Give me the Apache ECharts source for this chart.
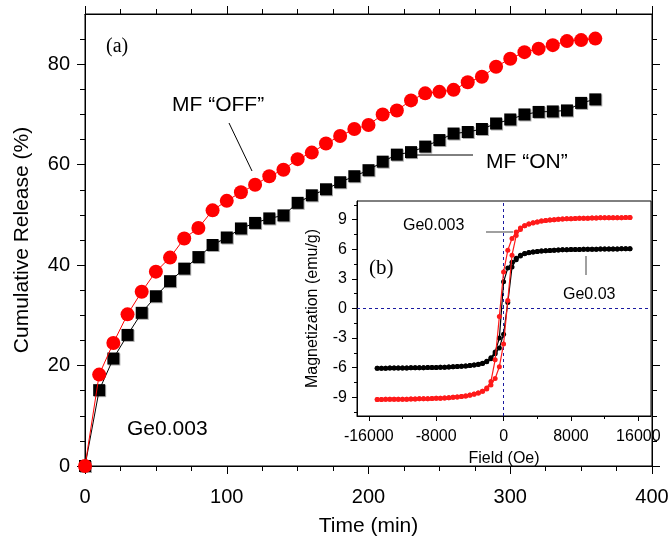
<!DOCTYPE html>
<html>
<head>
<meta charset="utf-8">
<script src="https://cdn.jsdelivr.net/npm/echarts@6/dist/echarts.min.js"></script>
<style>
  html, body { margin: 0; padding: 0; background: #fff; }
  #chart { width: 672px; height: 536px; }
</style>
</head>
<body>
<div id="chart"></div>
<script>
// (a) cumulative release vs time
const times = [0, 10, 20, 30, 40, 50, 60, 70, 80, 90, 100, 110, 120, 130, 140, 150, 160, 170, 180, 190,
  200, 210, 220, 230, 240, 250, 260, 270, 280, 290, 300, 310, 320, 330, 340, 350, 360];
const releaseOff = [0, 18.2, 24.5, 30.2, 34.7, 38.7, 41.5, 45.3, 47.4, 50.9, 52.8,
  54.5, 56.0, 57.7, 59.0, 61.1, 62.4, 64.2, 65.7, 67.1, 67.9,
  70.0, 70.8, 72.8, 74.2, 74.5, 74.9, 76.4, 77.5, 79.5, 81.1,
  82.4, 83.1, 83.8, 84.6, 84.8, 85.1];
const releaseOn = [0, 15.1, 21.4, 26.1, 30.5, 33.8, 36.8, 39.3, 41.6, 44.0, 45.5,
  47.3, 48.4, 49.3, 49.9, 52.4, 53.9, 55.1, 56.5, 57.7, 58.9,
  60.6, 62.0, 62.5, 63.6, 64.9, 66.2, 66.5, 67.1, 68.2, 69.0,
  70.0, 70.5, 70.6, 70.8, 72.3, 73.0];
const releaseTicks = [0, 20, 40, 60, 80];
const releaseMinor = [5, 10, 15, 25, 30, 35, 45, 50, 55, 65, 70, 75, 85];

// (b) hysteresis loops, field swept down then back up
const fieldDown = [15000, 14500, 14000, 13500, 13000, 12500, 12000, 11500, 11000, 10500,
  10000, 9500, 9000, 8500, 8000, 7500, 7000, 6500, 6000, 5500,
  5000, 4500, 4000, 3500, 3000, 2500, 2000, 1500, 1000, 500, 0,
  -500, -1000, -1500, -2000, -2500, -3000, -3500, -4000, -4500, -5000,
  -5500, -6000, -6500, -7000, -7500, -8000, -8500, -9000, -9500, -10000,
  -10500, -11000, -11500, -12000, -12500, -13000, -13500, -14000, -14500, -15000];
const fieldUp = fieldDown.slice().reverse();
const redDown = [9.22, 9.22, 9.21, 9.21, 9.20, 9.20, 9.19, 9.19, 9.18, 9.17,
  9.16, 9.15, 9.14, 9.12, 9.11, 9.09, 9.07, 9.04, 9.01, 8.97,
  8.92, 8.86, 8.78, 8.68, 8.56, 8.40, 8.15, 7.75, 7.1, 5.9, 3.7,
  -0.8, -5.2, -7.4, -8.05, -8.4, -8.58, -8.7, -8.79, -8.86, -8.92,
  -8.97, -9.01, -9.04, -9.07, -9.09, -9.11, -9.12, -9.14, -9.15, -9.16,
  -9.17, -9.18, -9.19, -9.19, -9.20, -9.20, -9.21, -9.21, -9.22, -9.22];
const redUp = [-9.22, -9.22, -9.21, -9.21, -9.20, -9.20, -9.19, -9.19, -9.18, -9.17,
  -9.16, -9.15, -9.14, -9.12, -9.11, -9.09, -9.07, -9.04, -9.01, -8.97,
  -8.92, -8.86, -8.78, -8.68, -8.56, -8.40, -8.15, -7.75, -7.1, -5.9, -3.6,
  0.8, 5.4, 7.4, 8.0, 8.38, 8.57, 8.69, 8.78, 8.86, 8.92,
  8.97, 9.01, 9.04, 9.07, 9.09, 9.11, 9.12, 9.14, 9.15, 9.16,
  9.17, 9.18, 9.19, 9.19, 9.20, 9.20, 9.21, 9.21, 9.22, 9.22];
const blackDown = [6.05, 6.05, 6.05, 6.04, 6.04, 6.04, 6.03, 6.03, 6.02, 6.02,
  6.01, 6.00, 5.99, 5.98, 5.97, 5.96, 5.95, 5.93, 5.91, 5.89,
  5.86, 5.83, 5.79, 5.74, 5.67, 5.57, 5.40, 5.1, 4.7, 4.1, 2.7,
  -3.0, -4.4, -5.0, -5.35, -5.55, -5.66, -5.73, -5.79, -5.83, -5.86,
  -5.89, -5.91, -5.93, -5.95, -5.96, -5.97, -5.98, -5.99, -6.00, -6.01,
  -6.02, -6.02, -6.03, -6.03, -6.04, -6.04, -6.04, -6.05, -6.05, -6.05];
const blackUp = [-6.05, -6.05, -6.05, -6.04, -6.04, -6.04, -6.03, -6.03, -6.02, -6.02,
  -6.01, -6.00, -5.99, -5.98, -5.97, -5.96, -5.95, -5.93, -5.91, -5.89,
  -5.86, -5.83, -5.79, -5.74, -5.67, -5.57, -5.40, -5.1, -4.6, -4.0, -2.6,
  0.6, 4.2, 4.95, 5.32, 5.55, 5.66, 5.73, 5.79, 5.83, 5.86,
  5.89, 5.91, 5.93, 5.95, 5.96, 5.97, 5.98, 5.99, 6.00, 6.01,
  6.02, 6.02, 6.03, 6.03, 6.04, 6.04, 6.04, 6.05, 6.05, 6.05];
const fieldTicks = [-16000, -8000, 0, 8000, 16000];
const fieldMinor = [-12000, -4000, 4000, 12000];
const magTicks = [-9, -6, -3, 0, 3, 6, 9];
const magMinor = [-10.5, -7.5, -4.5, -1.5, 1.5, 4.5, 7.5, 10.5];

const SANS = '"Liberation Sans", Arial, sans-serif';
const SERIF = '"Liberation Serif", "Times New Roman", serif';

function pairs(xs, ys) {
  return xs.map((x, i) => [x, ys[i]]);
}

function plain(v) {
  return String(v);
}

// extra axis that only draws ticks at the given values
function tickAxis(base, values, len) {
  return Object.assign({}, base, {
    name: '',
    axisLine: { show: false, onZero: false },
    axisLabel: { show: false },
    splitLine: { show: false },
    minorTick: { show: false },
    axisTick: { show: true, inside: false, length: len, customValues: values,
      lineStyle: { color: '#000', width: 1 } },
  });
}

function getOption() {
  const mainX = {
    type: 'value', gridIndex: 0, min: 0, max: 400, interval: 100,
    axisLine: { onZero: false, lineStyle: { color: '#000', width: 1 } },
    axisTick: { inside: false, length: 8, lineStyle: { color: '#000' } },
    minorTick: { show: true, splitNumber: 4, length: 5, lineStyle: { color: '#000' } },
    splitLine: { show: false },
  };
  const mainY = {
    type: 'value', gridIndex: 0, min: 0, max: 90,
    axisLine: { show: true, onZero: false, lineStyle: { color: '#000', width: 1 } },
    splitLine: { show: false },
  };
  const insetX = {
    type: 'value', gridIndex: 1, min: -17400, max: 17500, position: 'bottom',
    splitLine: { show: false },
  };
  const insetY = {
    type: 'value', gridIndex: 1, min: -10.9, max: 10.9, position: 'left',
    splitLine: { show: false },
  };

  return {
    backgroundColor: '#fff',
    animation: false,
    textStyle: { fontFamily: SANS },
    grid: [{
      left: 85, right: 20, top: 14, bottom: 70,
      containLabel: false, outerBoundsMode: 'none',
      show: true, borderColor: '#000', borderWidth: 1,
    }, {
      left: 357, width: 294, top: 201, height: 215,
      containLabel: false, outerBoundsMode: 'none',
      show: true, borderColor: '#000', borderWidth: 1, backgroundColor: '#fff',
    }],
    xAxis: [
      Object.assign({}, mainX, {
        position: 'bottom',
        name: 'Time (min)', nameLocation: 'middle', nameGap: 50,
        nameTextStyle: { fontSize: 21, color: '#000', fontFamily: SANS },
        axisLabel: { fontSize: 20, color: '#000', margin: 21, fontFamily: SANS },
      }),
      Object.assign({}, mainX, { position: 'top', axisLabel: { show: false } }),
      Object.assign({}, insetX, {
        name: 'Field (Oe)', nameLocation: 'middle', nameGap: 35,
        nameTextStyle: { fontSize: 16, color: '#000', fontFamily: SANS },
        axisLine: { show: true, onZero: false, lineStyle: { color: '#000', width: 1 } },
        axisTick: { show: true, inside: false, length: 5, customValues: fieldTicks,
          lineStyle: { color: '#000' } },
        axisLabel: { fontSize: 16, color: '#000', margin: 13, fontFamily: SANS,
          customValues: fieldTicks, formatter: plain },
      }),
      tickAxis(insetX, fieldMinor, 3),
    ],
    yAxis: [
      Object.assign({}, mainY, {
        position: 'left',
        name: 'Cumulative Release (%)', nameLocation: 'middle', nameGap: 52,
        nameTextStyle: { fontSize: 21, color: '#000', fontFamily: SANS },
        axisTick: { show: true, inside: false, length: 8, customValues: releaseTicks,
          lineStyle: { color: '#000' } },
        axisLabel: { fontSize: 20, color: '#000', margin: 15, fontFamily: SANS,
          customValues: releaseTicks },
      }),
      tickAxis(Object.assign({}, mainY, { position: 'left' }), releaseMinor, 5),
      Object.assign({}, mainY, {
        position: 'right',
        axisTick: { show: true, inside: false, length: 8, customValues: releaseTicks,
          lineStyle: { color: '#000' } },
        axisLabel: { show: false },
      }),
      tickAxis(Object.assign({}, mainY, { position: 'right' }), releaseMinor, 5),
      Object.assign({}, insetY, {
        name: 'Magnetization (emu/g)', nameLocation: 'middle', nameGap: 36,
        nameTextStyle: { fontSize: 16, color: '#000', fontFamily: SANS },
        axisLine: { show: true, onZero: false, lineStyle: { color: '#000', width: 1 } },
        axisTick: { show: true, inside: false, length: 5, customValues: magTicks,
          lineStyle: { color: '#000' } },
        axisLabel: { fontSize: 16, color: '#000', margin: 10, fontFamily: SANS,
          customValues: magTicks, formatter: plain },
      }),
      tickAxis(insetY, magMinor, 3),
    ],
    series: [{
      name: 'MF ON',
      type: 'line',
      xAxisIndex: 0, yAxisIndex: 0,
      data: pairs(times, releaseOn),
      symbol: 'rect', symbolSize: 12,
      lineStyle: { color: '#000', width: 1 },
      itemStyle: { color: '#000', shadowColor: 'rgba(0,0,0,0.35)', shadowOffsetX: 1, shadowOffsetY: 1 },
      z: 3,
    }, {
      name: 'MF OFF',
      type: 'line',
      xAxisIndex: 0, yAxisIndex: 0,
      data: pairs(times, releaseOff),
      symbol: 'circle', symbolSize: 14,
      lineStyle: { color: '#ff0000', width: 1 },
      itemStyle: { color: '#ff0000' },
      z: 4,
    }, {
      name: 'Ge0.03',
      type: 'line',
      xAxisIndex: 2, yAxisIndex: 4,
      data: pairs(fieldDown, blackDown).concat(pairs(fieldUp, blackUp)),
      symbol: 'circle', symbolSize: 5,
      lineStyle: { color: '#000', width: 1.2 },
      itemStyle: { color: '#000' },
      markLine: {
        silent: true,
        symbol: ['none', 'none'],
        label: { show: false },
        lineStyle: { color: '#1a1aa0', type: [3, 3], width: 1 },
        data: [{ xAxis: 0 }, { yAxis: 0 }],
      },
      z: 5,
    }, {
      name: 'Ge0.003',
      type: 'line',
      xAxisIndex: 2, yAxisIndex: 4,
      data: pairs(fieldDown, redDown).concat(pairs(fieldUp, redUp)),
      symbol: 'circle', symbolSize: 5,
      lineStyle: { color: '#ff1a1a', width: 1.2 },
      itemStyle: { color: '#ff1a1a' },
      z: 6,
    }],
    graphic: [
      { type: 'text', left: 106, top: 37, style: { text: '(a)', font: '20px ' + SERIF, fill: '#000' } },
      { type: 'text', left: 172, top: 95, style: { text: 'MF \u201COFF\u201D', font: '21px ' + SANS, fill: '#000' } },
      { type: 'line', shape: { x1: 229, y1: 123, x2: 252, y2: 171 }, style: { stroke: '#000', lineWidth: 1 } },
      { type: 'text', left: 486, top: 152, style: { text: 'MF \u201CON\u201D', font: '21px ' + SANS, fill: '#000' } },
      { type: 'line', shape: { x1: 417, y1: 155, x2: 473, y2: 155 }, style: { stroke: '#000', lineWidth: 1 } },
      { type: 'text', left: 127, top: 419, style: { text: 'Ge0.003', font: '21px ' + SANS, fill: '#000' } },
      { type: 'text', left: 369, top: 258, z: 10, style: { text: '(b)', font: '21px ' + SERIF, fill: '#000' } },
      { type: 'text', left: 403, top: 218, z: 10, style: { text: 'Ge0.003', font: '16px ' + SANS, fill: '#000' } },
      { type: 'line', z: 10, shape: { x1: 486, y1: 232, x2: 513, y2: 232 }, style: { stroke: '#808080', lineWidth: 1.5 } },
      { type: 'text', left: 563, top: 287, z: 10, style: { text: 'Ge0.03', font: '16px ' + SANS, fill: '#000' } },
      { type: 'line', z: 10, shape: { x1: 586, y1: 256, x2: 586, y2: 275 }, style: { stroke: '#808080', lineWidth: 1.5 } },
    ],
  };
}

function init() {
  const chart = echarts.init(document.getElementById('chart'));
  chart.setOption(getOption());
}

init();
</script>
</body>
</html>
